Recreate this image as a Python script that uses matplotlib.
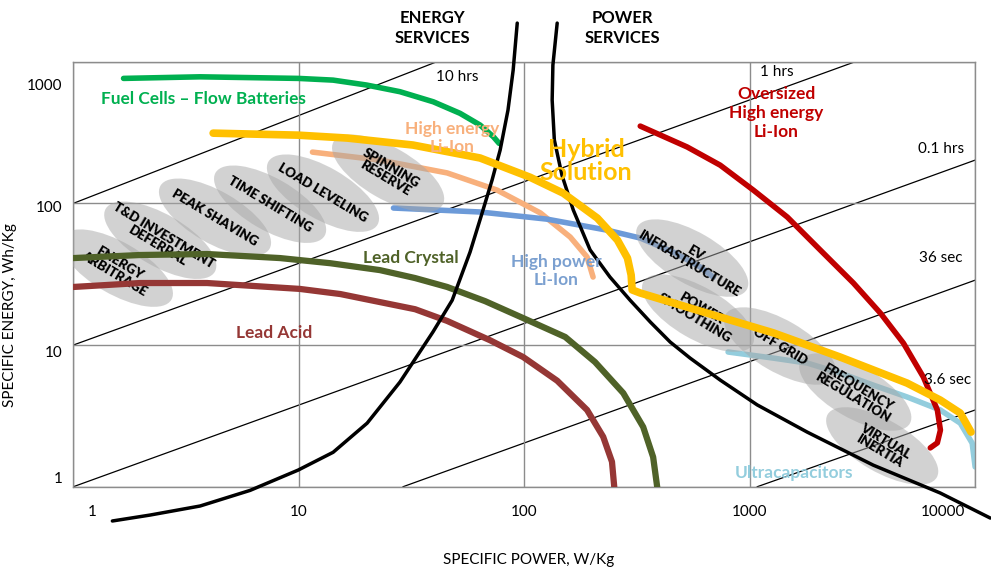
import matplotlib.pyplot as plt
from matplotlib.patches import Ellipse
from matplotlib.transforms import ScaledTranslation

plt.rcParams['font.family'] = ['Lato', 'DejaVu Sans']

# ---------------------------------------------------------------
# Ragone-style data: specific power (W/kg) vs specific energy (Wh/kg)
# ---------------------------------------------------------------
fuel_p = [1.67, 3.65, 9.96, 14.2, 20.0, 28.1, 39.5, 51.9, 63.7, 73.0, 77.4]
fuel_e = [762, 782, 762, 741, 684, 614, 521, 432, 357, 295, 265]

crystal_p = [1.0, 1.98, 3.92, 8.26, 13.8, 22.9, 32.8, 45.5, 67.1, 98.9, 152, 206,
             275, 337, 373, 389]
crystal_e = [41.1, 43.2, 43.9, 41.1, 37.8, 33.8, 29.7, 25.7, 20.4, 15.5, 11.4, 7.59,
             4.58, 2.64, 1.62, 0.99]

acid_p = [1.0, 1.98, 3.92, 10.1, 15.3, 22.9, 32.8, 45.5, 70.6, 98.9, 140, 190,
          224, 245, 251]
acid_e = [25.7, 27.4, 27.4, 24.9, 22.9, 20.1, 17.9, 14.8, 10.8, 8.23, 5.6, 3.48,
          2.25, 1.5, 0.98]

he_liion_p = [11.5, 22.9, 45.5, 75.8, 118, 160, 190, 202]
he_liion_e = [230, 202, 164, 124, 85.5, 57.8, 41.8, 30.2]

hybrid_p = [4.17, 9.93, 16.4, 32.1, 63.7, 106, 149, 211, 259, 287, 298, 301,
            327, 647, 1271, 2518, 4989, 7000, 8590, 9590]
hybrid_e = [313, 303, 289, 258, 209, 153, 118, 78.7, 55.1, 41.1, 31.2, 24.5,
            23.3, 16.8, 12.2, 8.23, 5.39, 4.09, 3.31, 2.43]

hp_liion_p = [26.3, 63.7, 126, 233, 327, 458, 604, 689]
hp_liion_e = [92.7, 86.9, 77.4, 64.7, 56.9, 45.3, 35.5, 30.2]

ucap_p = [802, 1271, 1799, 2522, 3525, 4989, 7000, 8590, 9700, 10000]
ucap_e = [8.93, 8.09, 7.46, 6.34, 5.22, 4.30, 3.48, 2.81, 2.03, 1.38]

oversized_p = [327, 528, 740, 1038, 1469, 2057, 2884, 3800, 4810, 5893, 6797,
               7014, 6797, 6324]
oversized_e = [351, 250, 186, 124, 80, 46.8, 27.4, 16.8, 10.3, 5.94, 3.48,
               2.51, 2.04, 1.88]

energy_srv_p = [1.49, 2.19, 3.65, 6.08, 9.93, 14.2, 20.1, 28.1, 39.4, 47.9,
                57.5, 65, 72, 78.2, 84.7, 89.3, 93.1]
energy_srv_e = [0.573, 0.631, 0.731, 0.942, 1.31, 1.75, 2.81, 5.48, 12.4, 20.7,
                45.3, 85.3, 146, 238, 455, 871, 1872]

power_srv_p = [140, 134, 133, 136, 147, 165, 196, 240, 295, 363, 444, 544, 740,
               1080, 1799, 3532, 7000, 11670]
power_srv_e = [1872, 946, 536, 280, 158, 89.8, 46.9, 30.2, 20.7, 14.5, 10.5, 8.09,
               5.66, 3.78, 2.43, 1.42, 0.903, 0.601]

# discharge-time guide lines: (p0, e0, p1, e1)
time_lines = [
    (1, 100, 41, 1000),      # 10 hrs
    (1, 10, 2940, 1000),     # 1 hrs
    (1, 1, 10000, 202),      # 0.1 hrs
    (29, 1, 10000, 28.7),    # 36 sec
    (1080, 1, 10000, 3.48),  # 3.6 sec
]

# application areas
apps = ['ENERGY\nARBITRAGE', 'T&D INVESTMENT\nDEFERRAL', 'PEAK SHAVING',
        'TIME SHIFTING', 'LOAD LEVELING', 'SPINNING\nRESERVE',
        'EV\nINFRASTRUCTURE', 'POWER\nSMOOTHING', 'OFF GRID',
        'FREQUENCY\nREGULATION', 'VIRTUAL\nINERTIA']
app_p = [1.56, 2.43, 4.25, 7.46, 12.8, 24.9, 556, 590, 1365, 2940, 3870]
app_e = [34.9, 54.9, 79.8, 98.6, 118, 163, 41.1, 16.8, 9.84, 4.66, 1.94]

xticks = [1, 10, 100, 1000, 10000]
yticks = [1, 10, 100, 1000]

# ---------------------------------------------------------------
fig = plt.figure(figsize=(9.91, 5.69), dpi=100)
ax = fig.add_axes([0.074, 0.1446, 0.910, 0.747])
ax.set_xscale('log')
ax.set_yscale('log')
ax.set_xlim(1, 10000)
ax.set_ylim(1, 1000)
ax.minorticks_off()
ax.grid(True, color='#8c8c8c', lw=1.0, zorder=0)
for s in ax.spines.values():
    s.set_color('#8c8c8c')
    s.set_linewidth(1.0)

ax.set_xticks(xticks)
ax.set_xticklabels([str(v) for v in xticks])
ax.set_yticks(yticks)
ax.set_yticklabels([str(v) for v in yticks])
ax.tick_params(length=0, labelsize=11, colors='black')
ax.tick_params(axis='x', pad=13)
ax.tick_params(axis='y', pad=8)

# odd label placement of the original
for lab, dx in zip(ax.get_xticklabels(), [19, 0, 0, 0, -32]):
    lab.set_transform(lab.get_transform() + ScaledTranslation(dx / 100, 0, fig.dpi_scale_trans))
for lab, dy in zip(ax.get_yticklabels(), [9, -6, -3, -23]):
    lab.set_transform(lab.get_transform() + ScaledTranslation(0, dy / 100, fig.dpi_scale_trans))

ax.set_xlabel('SPECIFIC POWER, W/Kg', fontsize=11)
ax.xaxis.set_label_coords(0.505, -0.155)
ax.set_ylabel('SPECIFIC ENERGY, Wh/Kg', fontsize=11)
ax.yaxis.set_label_coords(-0.062, 0.405)

for p0, e0, p1, e1 in time_lines:
    ax.plot([p0, p1], [e0, e1], color='black', lw=0.9, zorder=1)

kw = dict(solid_capstyle='round', solid_joinstyle='round')
ax.plot(he_liion_p, he_liion_e, color='#F8B07C', lw=4.0, zorder=2, **kw)
ax.plot(hp_liion_p, hp_liion_e, color='#6C9AD8', lw=4.0, zorder=2, **kw)
ax.plot(ucap_p, ucap_e, color='#93CDDD', lw=4.0, zorder=2, **kw)

# application ellipses
for name, p, e in zip(apps, app_p, app_e):
    tr = fig.dpi_scale_trans + ScaledTranslation(p, e, ax.transData)
    ax.add_patch(Ellipse((0, 0), 1.26, 0.52, angle=-30, transform=tr,
                         facecolor='#a7a7a7', alpha=0.5, edgecolor='none', zorder=3))
    ax.text(p, e, name, rotation=-31, ha='center', va='center', ma='center',
            rotation_mode='anchor', fontsize=9.5, fontweight='heavy',
            linespacing=1.0, zorder=4)

ax.plot(fuel_p, fuel_e, color='#00B050', lw=4.0, zorder=5, **kw)
ax.plot(crystal_p, crystal_e, color='#4F6228', lw=4.5, zorder=5, **kw)
ax.plot(acid_p, acid_e, color='#953735', lw=4.5, zorder=5, **kw)
ax.plot(oversized_p, oversized_e, color='#C00000', lw=4.0, zorder=5, **kw)
ax.plot(energy_srv_p, energy_srv_e, color='black', lw=2.5, zorder=6, clip_on=False, **kw)
ax.plot(power_srv_p, power_srv_e, color='black', lw=2.5, zorder=6, clip_on=False, **kw)
ax.plot(hybrid_p, hybrid_e, color='#FFC000', lw=5.5, zorder=7, **kw)


def ftext(px, py, s, **k):
    fig.text(px / 991, 1 - py / 569, s, ha='center', va='center', ma='center', **k)


# headers
ftext(432, 28, 'ENERGY\nSERVICES', fontsize=12, fontweight='bold', linespacing=1.3)
ftext(622, 28, 'POWER\nSERVICES', fontsize=12, fontweight='bold', linespacing=1.3)

# time labels
for px, py, s in [(457, 77, '10 hrs'), (777, 72, '1 hrs'), (941, 149, '0.1 hrs'),
                  (941, 258, '36 sec'), (948, 380, '3.6 sec')]:
    ftext(px, py, s, fontsize=11, zorder=8)

# curve labels
ftext(203, 99, 'Fuel Cells \u2013 Flow Batteries', fontsize=12.4, fontweight='bold', color='#00B050')
ftext(452, 138, 'High energy\nLi-Ion', fontsize=12.5, fontweight='bold', color='#F8B07C', linespacing=1.2)
ftext(586, 161, 'Hybrid\nSolution', fontsize=18, fontweight='bold', color='#FFC000', linespacing=1.05)
ftext(411, 258, 'Lead Crystal', fontsize=12.5, fontweight='bold', color='#4F6228')
ftext(274, 333, 'Lead Acid', fontsize=12.5, fontweight='bold', color='#953735')
ftext(556, 271, 'High power\nLi-Ion', fontsize=12.5, fontweight='bold', color='#7BA0D0', linespacing=1.2)
ftext(776, 113, 'Oversized\nHigh energy\nLi-Ion', fontsize=12.5, fontweight='bold', color='#C00000', linespacing=1.2)
ftext(794, 473, 'Ultracapacitors', fontsize=12.5, fontweight='bold', color='#93CDDD')

fig.savefig('out.png', dpi=100)
